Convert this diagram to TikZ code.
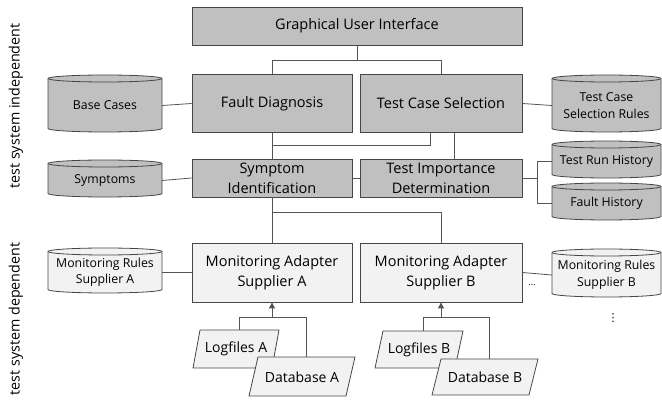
\documentclass[tikz,border=0pt]{standalone}
\usepackage{fontspec}
\setmainfont{Open Sans}
\newfontfamily\symfont{DejaVu Sans}
\usetikzlibrary{arrows.meta}

\definecolor{darkfill}{RGB}{192,192,192}
\definecolor{lightfill}{RGB}{242,242,242}
\definecolor{edgecol}{RGB}{70,70,70}
\definecolor{wirecol}{RGB}{85,85,85}

\tikzset{
  box/.style={draw=edgecol, line width=0.8pt, inner sep=0pt, align=center,
              font=\fontsize{14.5}{20}\selectfont},
  darkbox/.style={box, fill=darkfill},
  lightbox/.style={box, fill=lightfill},
  store/.style={draw=edgecol, line width=0.8pt},
  storetext/.style={inner sep=0pt, align=center, font=\fontsize{12.3}{16.5}\selectfont},
  wire/.style={draw=wirecol, line width=0.8pt},
  slab/.style={draw=edgecol, line width=0.8pt, fill=lightfill},
  slabtext/.style={inner sep=0pt, font=\fontsize{14}{16}\selectfont},
  sidelabel/.style={rotate=90, font=\fontsize{14.3}{16}\selectfont},
}

% #1 name, #2 left, #3 top, #4 right, #5 bottom, #6 fill, #7 text
\newcommand\datastore[7]{%
  \pgfmathsetmacro\dsrx{(#4-#2)/2}%
  \pgfmathsetmacro\dscx{(#2+#4)/2}%
  \pgfmathsetmacro\dscy{(#3+#5)/2}%
  \pgfmathsetmacro\dsw{#4-#2}%
  \pgfmathsetmacro\dsh{#5-#3}%
  \filldraw[store, fill=#6] (#2,#3+3.5) -- (#2,#5-3.5)
     arc[start angle=180, end angle=0, x radius=\dsrx, y radius=3.5]
     -- (#4,#3+3.5)
     arc[start angle=0, end angle=-180, x radius=\dsrx, y radius=3.5] -- cycle;
  \draw[store] (#2,#3+3.5)
     arc[start angle=180, end angle=0, x radius=\dsrx, y radius=3.5];
  \node[storetext, minimum width=\dsw pt, minimum height=\dsh pt] (#1)
     at (\dscx,\dscy+2) {#7};
}

\begin{document}
\begin{tikzpicture}[x=1pt, y=-1pt]
\useasboundingbox (0,0) rectangle (662,403);

% side labels
\node[sidelabel] (indep) at (16,106) {test system independent};
\node[sidelabel] (dep) at (16,319) {test system dependent};

% processing components
\node[darkbox, minimum width=330pt, minimum height=38pt] (gui) at (357,26) {Graphical User Interface};
\node[darkbox, minimum width=160pt, minimum height=58pt] (fd) at (272,103.5) {Fault Diagnosis};
\node[darkbox, minimum width=162pt, minimum height=58pt] (tcs) at (441,103.5) {Test Case Selection};
\node[darkbox, minimum width=160pt, minimum height=38pt] (si) at (272,178) {Symptom\\Identification};
\node[darkbox, minimum width=162pt, minimum height=38pt] (tid) at (441,178) {Test Importance\\Determination};
\node[lightbox, minimum width=160pt, minimum height=59pt] (maa) at (272,272.5) {Monitoring Adapter\\Supplier A};
\node[lightbox, minimum width=162pt, minimum height=59pt] (mab) at (441,272.5) {Monitoring Adapter\\Supplier B};

% data stores
\datastore{bc}{48}{75}{162}{132}{darkfill}{Base Cases}
\datastore{sym}{48}{160}{162}{197}{darkfill}{Symptoms}
\datastore{tcsr}{552}{75}{661}{132}{darkfill}{Test Case\\Selection Rules}
\datastore{trh}{552}{141}{661}{178}{darkfill}{Test Run History}
\datastore{fh}{552}{183}{661}{220}{darkfill}{Fault History}
\datastore{mra}{48}{248}{162}{293}{lightfill}{Monitoring Rules\\Supplier A}
\datastore{mrb}{552}{249}{661}{297}{lightfill}{Monitoring Rules\\Supplier B}

% log sources
\draw[slab] (193,368) -- (200,330) -- (279,330) -- (272,368) -- cycle;
\node[slabtext] (logA) at (236,349) {Logfiles A};
\coordinate (logAtop) at (239.5,330);
\draw[slab] (249,396) -- (258,357) -- (355,357) -- (346,396) -- cycle;
\node[slabtext] (dbA) at (302,377) {Database A};
\coordinate (dbAtop) at (306.5,357);

\draw[slab] (375,368) -- (383,331) -- (463,331) -- (455,368) -- cycle;
\node[slabtext] (logB) at (419,350) {Logfiles B};
\coordinate (logBtop) at (423,331);
\draw[slab] (432,395) -- (441,359) -- (538,359) -- (529,395) -- cycle;
\node[slabtext] (dbB) at (485,377) {Database B};
\coordinate (dbBtop) at (489.5,359);

% connectors
\coordinate (busTop) at (357,60);
\draw[wire] (gui.south) -- (busTop);
\draw[wire] (fd.north) -- (fd.north |- busTop) -- (tcs.north |- busTop) -- (tcs.north);

\draw[wire] (fd.south) -- (si.north);
\draw[wire] (272,145) -| ([xshift=-11pt]tcs.south);
\draw[wire] ([xshift=13pt]tcs.south) -- ([xshift=13pt]tid.north);
\draw[wire] (si.east) -- (tid.west);

\draw[wire] (si.south) -- (maa.north);
\draw[wire] (272,212) -| (mab.north);

\draw[wire] (tid.east) -- ++(15,0) coordinate (fork);
\draw[wire] (trh.west) -| (fork) |- (fh.west);

\draw[wire] (bc.east) -- (fd.west);
\draw[wire] (sym.east) -- (si.west);
\draw[wire] (tcs.east) -- (tcsr.west);
\draw[wire] (mra.east) -- (maa.west);
\draw[wire] (mab.east) -- (mrb.west);

% feeds into the adapters
\coordinate (jA) at (272,317);
\draw[wire] (logAtop) -- (logAtop |- jA) -- (dbAtop |- jA) -- (dbAtop);
\draw[wire, -{Triangle[length=6pt, width=6pt]}] (jA) -- (maa.south);
\coordinate (jB) at (441,317);
\draw[wire] (logBtop) -- (logBtop |- jB) -- (dbBtop |- jB) -- (dbBtop);
\draw[wire, -{Triangle[length=6pt, width=6pt]}] (jB) -- (mab.south);

% further suppliers
\node[font=\fontsize{9}{9}\selectfont] (moreA) at (532,285) {...};
\node[font=\symfont\fontsize{11}{11}\selectfont, inner sep=0pt] (moreB) at (613,318) {⋮};
\end{tikzpicture}
\end{document}
